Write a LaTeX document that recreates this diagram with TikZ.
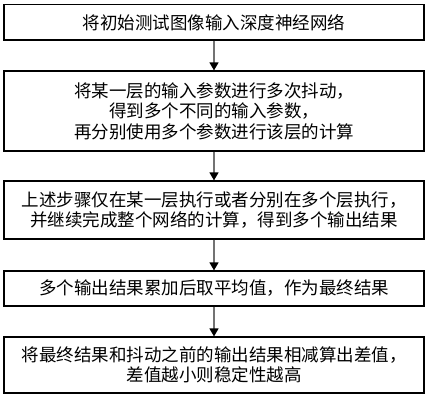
\documentclass[tikz,border=0pt]{standalone}
\usepackage{fontspec}
\setmainfont{Noto Sans CJK SC}
\usetikzlibrary{arrows.meta}
\begin{document}
\begin{tikzpicture}[x=1pt,y=-1pt,
  stepbox/.style={draw=black,line width=1.2pt,rectangle,minimum width=420pt,inner sep=0pt,align=center,
    font=\fontsize{17.5}{20.5}\selectfont},
  flow/.style={draw=black!55,line width=1.4pt,-{Triangle[length=8pt,width=9pt,color=black]}}]
\useasboundingbox (0,0) rectangle (430,400);
\node[stepbox,minimum height=35.5pt] (b1) at (214,22.25) {将初始测试图像输入深度神经网络};
\node[stepbox,minimum height=80pt] (b2) at (214,111) {将某一层的输入参数进行多次抖动，\\得到多个不同的输入参数，\\再分别使用多个参数进行该层的计算};
\node[stepbox,minimum height=58pt] (b3) at (214,210) {上述步骤仅在某一层执行或者分别在多个层执行，\\并继续完成整个网络的计算，得到多个输出结果};
\node[stepbox,minimum height=35pt] (b4) at (214,288.5) {多个输出结果累加后取平均值，作为最终结果};
\node[stepbox,minimum height=56pt] (b5) at (214,365) {将最终结果和抖动之前的输出结果相减算出差值，\\差值越小则稳定性越高};
\draw[flow] (b1) -- (b2);
\draw[flow] (b2) -- (b3);
\draw[flow] (b3) -- (b4);
\draw[flow] (b4) -- (b5);
\end{tikzpicture}
\end{document}
